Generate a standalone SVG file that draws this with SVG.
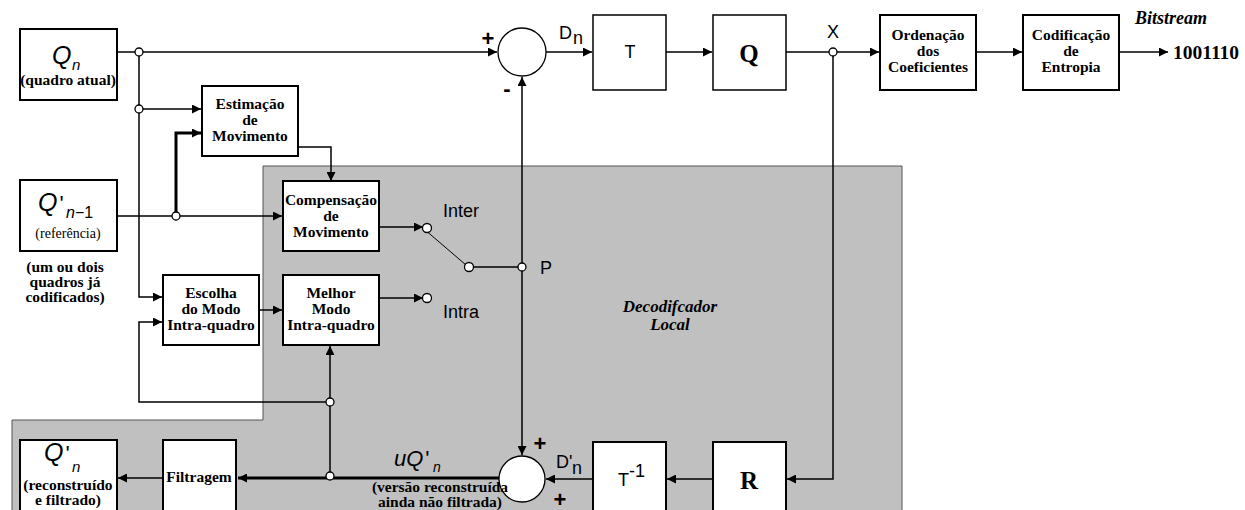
<svg xmlns="http://www.w3.org/2000/svg" width="1245" height="510" viewBox="0 0 1245 510">
<style>
.box{fill:#fff;stroke:#000;stroke-width:2}
.lbl{font-family:"Liberation Serif","Times New Roman",serif;font-weight:bold;font-size:15.5px;text-anchor:middle}
.sans{font-family:"Liberation Sans",Arial,sans-serif;font-size:18px}
.it{font-family:"Liberation Sans",Arial,sans-serif;font-style:italic}
.ln{fill:none;stroke:#000;stroke-width:1.5}
.th{fill:none;stroke:#000;stroke-width:3}
.tn{fill:none;stroke:#000;stroke-width:1}
.jn{fill:#fff;stroke:#000;stroke-width:1.3}
</style>
<defs>
<marker id="ar" viewBox="0 0 10 10" refX="10" refY="5" markerWidth="12" markerHeight="9" markerUnits="userSpaceOnUse" orient="auto"><path d="M0,0 L10,5 L0,10 z" fill="#000"/></marker>
</defs>
<rect width="1245" height="510" fill="#fff"/>
<g id="decoder-region">
<path d="M263,166 H902 V512 H12 V420 H263 Z" fill="#c0c0c0" stroke="#555" stroke-width="1"/>
<text x="670" y="312" font-family="Liberation Serif,serif" font-style="italic" font-weight="bold" font-size="17" text-anchor="middle">Decodifcador</text>
<text x="670" y="330" font-family="Liberation Serif,serif" font-style="italic" font-weight="bold" font-size="17" text-anchor="middle">Local</text>
</g>
<g id="connectors">
<path class="ln" d="M117,52 H497" marker-end="url(#ar)"/>
<path class="ln" d="M139,52 V297 H162" marker-end="url(#ar)"/>
<path class="ln" d="M139,109 H201" marker-end="url(#ar)"/>
<path class="th" d="M176,216 V133 H201" marker-end="url(#ar)"/>
<path class="ln" d="M117,216 H282" marker-end="url(#ar)"/>
<path class="ln" d="M298,147 H331 V181" marker-end="url(#ar)"/>
<path class="ln" d="M259,310 H282" marker-end="url(#ar)"/>
<path class="ln" d="M330,478 V346" marker-end="url(#ar)"/>
<path class="ln" d="M330,402 H139 V322 H162" marker-end="url(#ar)"/>
<path class="ln" d="M379,227 H423" marker-end="url(#ar)"/>
<path class="ln" d="M379,298 H423" marker-end="url(#ar)"/>
<path class="tn" d="M424,229 L466,265"/>
<path class="ln" d="M473,267 H522"/>
<path class="ln" d="M546,52 H592" marker-end="url(#ar)"/>
<path class="ln" d="M666,52 H712" marker-end="url(#ar)"/>
<path class="ln" d="M786,52 H879" marker-end="url(#ar)"/>
<path class="ln" d="M976,52 H1022" marker-end="url(#ar)"/>
<path class="ln" d="M1119,52 H1168" marker-end="url(#ar)"/>
<path class="ln" d="M522,267 V77" marker-end="url(#ar)"/>
<path class="ln" d="M522,267 V455" marker-end="url(#ar)"/>
<path class="ln" d="M833,52 V479 H787" marker-end="url(#ar)"/>
<path class="ln" d="M713,479 H667" marker-end="url(#ar)"/>
<path class="ln" d="M593,479 H546" marker-end="url(#ar)"/>
<path class="th" d="M499,478 H238" marker-end="url(#ar)"/>
<path class="ln" d="M163,478 H118" marker-end="url(#ar)"/>
<circle class="jn" cx="139" cy="52" r="4"/>
<circle class="jn" cx="139" cy="109" r="4"/>
<circle class="jn" cx="176" cy="216" r="4"/>
<circle class="jn" cx="833" cy="52" r="4"/>
<circle class="jn" cx="522" cy="267" r="4"/>
<circle class="jn" cx="330" cy="402" r="4"/>
<circle class="jn" cx="330" cy="476" r="4"/>
<circle class="jn" cx="427" cy="228" r="4.5"/>
<circle class="jn" cx="427" cy="298" r="4.5"/>
<circle class="jn" cx="469" cy="267" r="4.5"/>
</g>
<g id="qn">
<rect class="box" x="20" y="29" width="97" height="71"/>
<text x="52" y="64" class="it" font-size="25">Q</text>
<text x="72" y="70" class="it" font-size="15">n</text>
<text x="68" y="85" class="lbl" font-size="14">(quadro atual)</text>
</g>
<g id="qn1">
<rect class="box" x="20" y="180" width="97" height="71"/>
<text x="38" y="211" class="it" font-size="25">Q<tspan font-style="normal" font-size="22" dx="2">'</tspan></text>
<text x="66" y="218" class="it" font-size="16">n<tspan font-style="normal">−1</tspan></text>
<text x="68" y="238" font-family="Liberation Serif,serif" font-size="14" text-anchor="middle">(referência)</text>
<text x="65" y="272" class="lbl" font-size="14.5">(um ou dois</text>
<text x="65" y="287" class="lbl" font-size="14.5">quadros já</text>
<text x="65" y="302" class="lbl" font-size="14.5">codificados)</text>
</g>
<g id="estimacao">
<rect class="box" x="202" y="86" width="96" height="70"/>
<text x="250" y="109" class="lbl">Estimação</text>
<text x="250" y="125" class="lbl">de</text>
<text x="250" y="141" class="lbl">Movimento</text>
</g>
<g id="compensacao">
<rect class="box" x="283" y="181" width="96" height="70"/>
<text x="331" y="205" class="lbl">Compensação</text>
<text x="331" y="221" class="lbl">de</text>
<text x="331" y="237" class="lbl">Movimento</text>
</g>
<g id="escolha">
<rect class="box" x="163" y="275" width="96" height="70"/>
<text x="211" y="298" class="lbl">Escolha</text>
<text x="211" y="314" class="lbl">do Modo</text>
<text x="211" y="330" class="lbl">Intra-quadro</text>
</g>
<g id="melhor">
<rect class="box" x="283" y="275" width="96" height="70"/>
<text x="331" y="298" class="lbl">Melhor</text>
<text x="331" y="314" class="lbl">Modo</text>
<text x="331" y="330" class="lbl">Intra-quadro</text>
</g>
<g id="switch">
<text x="443" y="217" class="sans">Inter</text>
<text x="443" y="318" class="sans">Intra</text>
<text x="540" y="274" class="sans">P</text>
</g>
<g id="sum1">
<circle cx="522" cy="52" r="24" fill="#fff" stroke="#000" stroke-width="1.3"/>
<text x="488" y="46" font-family="Liberation Sans,sans-serif" font-weight="bold" font-size="22" text-anchor="middle">+</text>
<text x="507" y="96" font-family="Liberation Sans,sans-serif" font-weight="bold" font-size="22" text-anchor="middle">-</text>
<text x="559" y="39" class="sans">D</text>
<text x="573" y="44" class="sans" font-size="15">n</text>
</g>
<g id="t">
<rect x="593" y="15" width="73" height="75" fill="#fff" stroke="#000" stroke-width="1.5"/>
<text x="630" y="58" class="sans" font-size="17" text-anchor="middle">T</text>
</g>
<g id="q">
<rect x="713" y="15" width="73" height="75" fill="#fff" stroke="#000" stroke-width="1.5"/>
<text x="749" y="62" font-family="Liberation Serif,serif" font-weight="bold" font-size="25" text-anchor="middle">Q</text>
<text x="833" y="38" class="sans" text-anchor="middle">X</text>
</g>
<g id="ordenacao">
<rect class="box" x="880" y="15" width="96" height="75"/>
<text x="928" y="40" class="lbl" font-size="14.5">Ordenação</text>
<text x="928" y="56" class="lbl" font-size="14.5">dos</text>
<text x="928" y="72" class="lbl" font-size="14.5">Coeficientes</text>
</g>
<g id="codificacao">
<rect class="box" x="1023" y="15" width="96" height="75"/>
<text x="1071" y="40" class="lbl" font-size="14.5">Codificação</text>
<text x="1071" y="56" class="lbl" font-size="14.5">de</text>
<text x="1071" y="72" class="lbl" font-size="14.5">Entropia</text>
</g>
<g id="bitstream">
<text x="1135" y="24" font-family="Liberation Serif,serif" font-style="italic" font-weight="bold" font-size="18">Bitstream</text>
<text x="1173" y="59" font-family="Liberation Serif,serif" font-weight="bold" font-size="19.5">1001110</text>
</g>
<g id="r">
<rect class="box" x="713" y="442" width="73" height="80"/>
<text x="749" y="489" font-family="Liberation Serif,serif" font-weight="bold" font-size="25" text-anchor="middle">R</text>
</g>
<g id="tinv">
<rect class="box" x="593" y="442" width="73" height="80"/>
<text x="618" y="486" class="sans">T</text>
<text x="629" y="477" class="sans" font-size="12">-1</text>
</g>
<g id="sum2">
<circle cx="522" cy="479" r="23" fill="#fff" stroke="#000" stroke-width="1.3"/>
<text x="540" y="451" font-family="Liberation Sans,sans-serif" font-weight="bold" font-size="22" text-anchor="middle">+</text>
<text x="560" y="507" font-family="Liberation Sans,sans-serif" font-weight="bold" font-size="22" text-anchor="middle">+</text>
<text x="556" y="468" class="sans">D'</text>
<text x="572" y="474" class="sans" font-size="15">n</text>
<text x="394" y="466" class="it" font-size="22">uQ<tspan font-style="normal" dx="2">'</tspan></text>
<text x="433" y="472" class="it" font-size="14">n</text>
<text x="440" y="492" class="lbl" font-size="12">(versão reconstruída</text>
<text x="440" y="507" class="lbl" font-size="12">ainda não filtrada)</text>
</g>
<g id="filtragem">
<rect class="box" x="163" y="440" width="73" height="80"/>
<text x="199" y="482" class="lbl" font-size="14.5">Filtragem</text>
</g>
<g id="qnrec">
<rect class="box" x="20" y="440" width="97" height="80"/>
<text x="44" y="461" class="it" font-size="25">Q<tspan font-style="normal" font-size="22" dx="2">'</tspan></text>
<text x="72" y="472" class="it" font-size="15">n</text>
<text x="68" y="490" class="lbl" font-size="13.5">(reconstruído</text>
<text x="68" y="505" class="lbl" font-size="13.5">e filtrado)</text>
</g>
</svg>
